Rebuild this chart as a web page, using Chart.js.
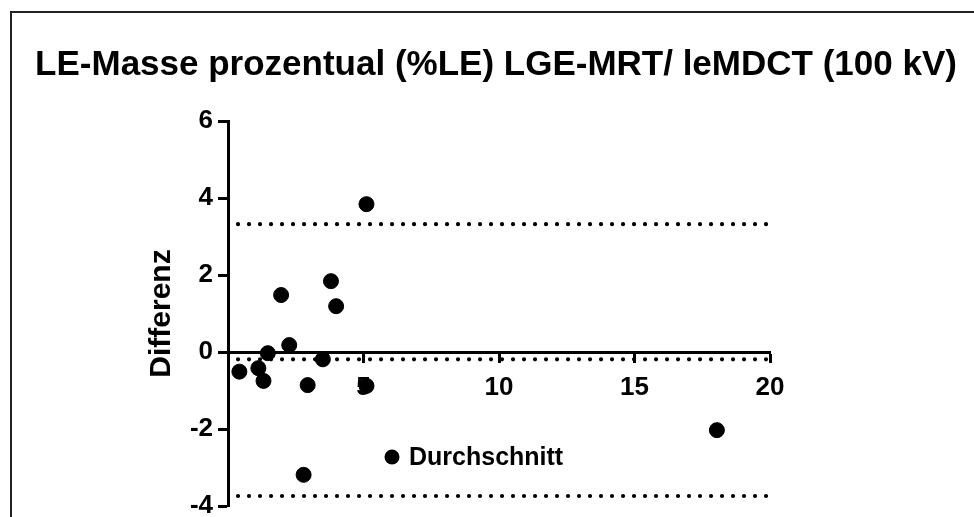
<!DOCTYPE html>
<html>
<head>
<meta charset="utf-8">
<script src="https://cdn.jsdelivr.net/npm/chart.js@4"></script>
<style>
  body { margin: 0; background: #fff; }
</style>
</head>
<body>
<canvas id="chart" width="974" height="517"></canvas>
<script>
// Bland-Altman data (mean vs difference)
const meanValues = [0.42, 1.12, 1.31, 1.47, 1.96, 2.26, 2.79, 2.94, 3.5, 3.8, 3.99, 5.11, 5.11, 18.04];
const diffValues = [-0.51, -0.42, -0.75, -0.03, 1.48, 0.18, -3.19, -0.86, -0.19, 1.84, 1.19, -0.88, 3.84, -2.03];
const biasValue = -0.19;
const upperLimit = 3.32;
const lowerLimit = -3.74;
const lineRange = [0.37, 19.9];
const seriesName = 'Durchschnitt';
const titleText = 'LE-Masse prozentual (%LE) LGE-MRT/ leMDCT (100 kV)';
const yTitle = 'Differenz';

const FONT = '"Liberation Sans", Arial, sans-serif';

const points = meanValues.map((m, i) => ({x: m, y: diffValues[i]}));

function dottedLine(value) {
    return {
        type: 'line',
        data: [{x: lineRange[0], y: value}, {x: lineRange[1], y: value}],
        borderColor: '#000',
        borderWidth: 4.2,
        borderDash: [0, 11],
        borderCapStyle: 'round',
        pointRadius: 0,
        fill: false
    };
}

/* white page with the frame lines */
const framePlugin = {
    id: 'frame',
    beforeDraw(chart) {
        const ctx = chart.ctx;
        ctx.save();
        ctx.fillStyle = '#fff';
        ctx.fillRect(0, 0, chart.width, chart.height);
        ctx.strokeStyle = '#222';
        ctx.lineWidth = 2;
        ctx.strokeRect(11, 12, chart.width + 20, chart.height + 20);
        ctx.restore();
    }
};

/* legend entry drawn inside the plot like the original */
const legendPlugin = {
    id: 'innerLegend',
    afterDraw(chart) {
        const ctx = chart.ctx;
        ctx.save();
        ctx.fillStyle = '#000';
        ctx.beginPath();
        ctx.arc(392, 457, 7.5, 0, Math.PI * 2);
        ctx.fill();
        ctx.font = 'bold 25px ' + FONT;
        ctx.textBaseline = 'middle';
        ctx.textAlign = 'left';
        ctx.fillText(chart.data.datasets[0].label, 409, 458);
        ctx.restore();
    }
};

const ctx = document.getElementById('chart');
const myChart = new Chart(ctx, {
    type: 'scatter',
    data: {
        datasets: [
            {
                label: seriesName,
                data: points,
                backgroundColor: '#000',
                borderColor: '#000',
                pointRadius: 7.5,
                pointHoverRadius: 7.5
            },
            dottedLine(upperLimit),
            dottedLine(biasValue),
            dottedLine(lowerLimit)
        ]
    },
    options: {
        responsive: false,
        animation: false,
        layout: { padding: { left: 18, top: 0, right: 0, bottom: 11 } },
        plugins: {
            legend: { display: false },
            tooltip: { enabled: false },
            title: {
                display: true,
                text: titleText,
                color: '#000',
                font: { family: FONT, size: 35, weight: 'bold' },
                padding: { top: 44, bottom: 35 }
            }
        },
        scales: {
            x: {
                type: 'linear',
                min: 0,
                max: 20,
                position: { y: 0 },
                grid: { drawOnChartArea: false, drawTicks: true, tickLength: 9, tickWidth: 3, tickColor: '#000' },
                border: { display: true, width: 3, color: '#000' },
                ticks: {
                    stepSize: 5,
                    color: '#000',
                    padding: 11,
                    font: { family: FONT, size: 26, weight: 'bold' },
                    callback: (v) => v === 0 ? '' : v
                },
                afterFit(scale) {
                    scale.height = 0;
                    scale.paddingLeft = 0;
                    scale.paddingRight = 0;
                }
            },
            y: {
                type: 'linear',
                min: -4,
                max: 6,
                position: 'left',
                grid: { drawOnChartArea: false, drawTicks: true, tickLength: 10, tickWidth: 3, tickColor: '#000' },
                border: { display: true, width: 3, color: '#000' },
                ticks: {
                    stepSize: 2,
                    color: '#000',
                    padding: 5,
                    font: { family: FONT, size: 26, weight: 'bold' }
                },
                title: {
                    display: true,
                    text: yTitle,
                    color: '#000',
                    font: { family: FONT, size: 30, weight: 'bold' },
                    padding: { top: 126, bottom: 0 }
                },
                afterFit(scale) {
                    scale.width = 210;
                    scale.paddingTop = 0;
                    scale.paddingBottom = 0;
                }
            },
            y2: {
                type: 'linear',
                position: 'right',
                display: true,
                grid: { display: false },
                border: { display: false },
                ticks: { display: false },
                afterFit(scale) {
                    scale.width = 204;
                }
            }
        }
    },
    plugins: [framePlugin, legendPlugin]
});
</script>
</body>
</html>
